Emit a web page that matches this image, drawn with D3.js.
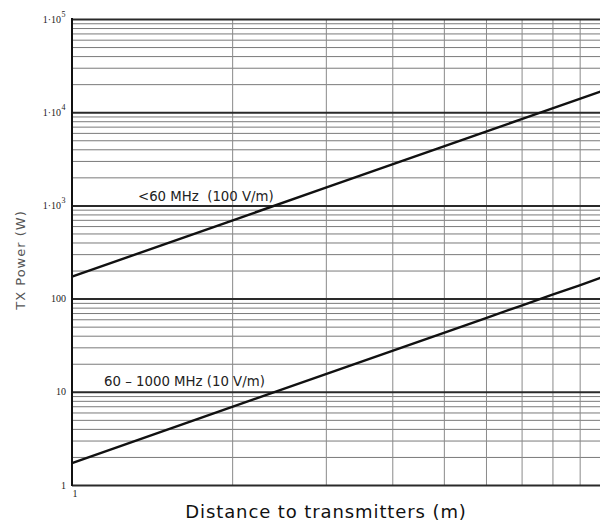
<!DOCTYPE html>
<html>
<head>
<meta charset="utf-8">
<script src="https://cdn.jsdelivr.net/npm/d3@7"></script>
<style>
  body { margin: 0; background: #fff; }
  svg { display: block; }
  text { white-space: pre; }
</style>
</head>
<body>
<div id="chart"></div>
<script>
// distance in metres, power in watts
const distances = [1, 2, 3, 4, 5, 6, 7, 8, 9, 10];
const powerLow60 = [172, 688, 1550, 2750, 4300, 6190, 8430, 11000, 13900, 17200];
const power60to1000 = [1.72, 6.88, 15.5, 27.5, 43, 61.9, 84.3, 110, 139, 172];
const seriesLabels = ["<60 MHz  (100 V/m)", "60 \u2013 1000 MHz (10 V/m)"];
const yDecades = [1, 10, 100, 1000, 10000, 100000];
const yDecadeLabels = [["1", ""], ["10", ""], ["100", ""], ["1\u00b710", "3"], ["1\u00b710", "4"], ["1\u00b710", "5"]];

const W = 600, H = 524;
const margin = { top: 19, left: 72, bottom: 39 };
const plotRight = 604; // grid runs slightly past the picture edge

const svg = d3.select("#chart").append("svg")
  .attr("width", W).attr("height", H);

const x = d3.scaleLog().domain([1, 10]).range([margin.left, plotRight]);
const y = d3.scaleLog().domain([1, 100000]).range([H - margin.bottom, margin.top]);

// minor grid
const yMinor = y.ticks().filter(v => !yDecades.includes(v));
const xMinor = x.ticks().filter(v => v !== 1 && v !== 10);

svg.append("g")
  .attr("transform", `translate(${margin.left},0)`)
  .call(d3.axisLeft(y).tickValues(yMinor).tickSize(-(plotRight - margin.left)).tickFormat(""))
  .call(g => g.select(".domain").remove())
  .call(g => g.selectAll("line").attr("stroke", "#7a7a7a").attr("stroke-width", 1));

svg.append("g")
  .attr("transform", `translate(0,${H - margin.bottom})`)
  .call(d3.axisBottom(x).tickValues(xMinor).tickSize(-(H - margin.bottom - margin.top)).tickFormat(""))
  .call(g => g.select(".domain").remove())
  .call(g => g.selectAll("line").attr("stroke", "#8a8a8a").attr("stroke-width", 1));

// decade lines
svg.append("g")
  .attr("transform", `translate(${margin.left},0)`)
  .call(d3.axisLeft(y).tickValues(yDecades).tickSize(-(plotRight - margin.left)).tickFormat(""))
  .call(g => g.select(".domain").remove())
  .call(g => g.selectAll("line").attr("stroke", "#2a2a2a").attr("stroke-width", 2));

// left border
svg.append("line")
  .attr("x1", margin.left).attr("x2", margin.left)
  .attr("y1", y(100000) - 1).attr("y2", y(1) + 1)
  .attr("stroke", "#111").attr("stroke-width", 2);

// y tick labels
const yLab = svg.append("g")
  .attr("font-family", "'Liberation Serif', 'DejaVu Serif', serif")
  .attr("font-size", 10)
  .attr("fill", "#222");

yDecades.forEach((v, i) => {
  const [base, sup] = yDecadeLabels[i];
  yLab.append("text")
    .attr("x", sup ? 61 : 66)
    .attr("y", y(v))
    .attr("dy", "0.35em")
    .attr("text-anchor", "end")
    .text(base);
  if (sup) {
    yLab.append("text")
      .attr("x", 61.5)
      .attr("y", y(v) - 2)
      .attr("font-size", 8)
      .text(sup);
  }
});

// x tick label
svg.append("text")
  .attr("x", x(1) + 0.5)
  .attr("y", y(1) + 12)
  .attr("font-family", "'Liberation Serif', 'DejaVu Serif', serif")
  .attr("font-size", 10)
  .attr("fill", "#222")
  .text("1");

// series lines
const line = d3.line()
  .x(d => x(d[0]))
  .y(d => y(d[1]));

[powerLow60, power60to1000].forEach(vals => {
  svg.append("path")
    .datum(distances.map((d, i) => [d, vals[i]]))
    .attr("d", line)
    .attr("fill", "none")
    .attr("stroke", "#111")
    .attr("stroke-width", 2.4);
});

// series labels
const labelFont = "'DejaVu Sans', Verdana, sans-serif";
svg.append("text")
  .attr("x", 138).attr("y", 201)
  .attr("font-family", labelFont).attr("font-size", 13.3)
  .attr("fill", "#222")
  .text(seriesLabels[0]);

svg.append("text")
  .attr("x", 104).attr("y", 386)
  .attr("font-family", labelFont).attr("font-size", 13.3)
  .attr("fill", "#222")
  .text(seriesLabels[1]);

// axis titles
svg.append("text")
  .attr("x", 326).attr("y", 518)
  .attr("text-anchor", "middle")
  .attr("font-family", labelFont).attr("font-size", 18)
  .attr("letter-spacing", 0.9)
  .attr("fill", "#111")
  .text("Distance to transmitters (m)");

svg.append("text")
  .attr("transform", "translate(25,260) rotate(-90)")
  .attr("text-anchor", "middle")
  .attr("font-family", labelFont).attr("font-size", 13)
  .attr("letter-spacing", 1)
  .attr("fill", "#555")
  .text("TX Power (W)");
</script>
</body>
</html>
